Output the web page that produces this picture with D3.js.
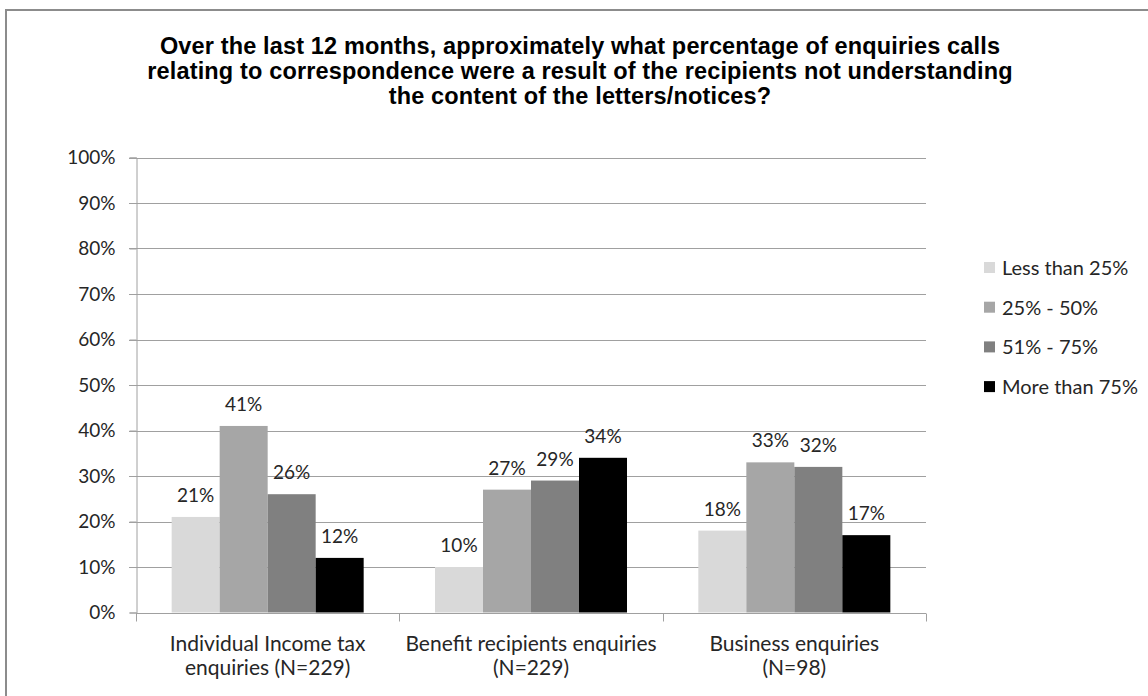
<!DOCTYPE html>
<html>
<head>
<meta charset="utf-8">
<script src="https://cdn.jsdelivr.net/npm/d3@7"></script>
<style>
  body { margin: 0; background: #fff; }
  text { fill: #262626; }
</style>
</head>
<body>
<svg id="mainsvg" width="1148" height="696"></svg>
<script>
const categories = ["Individual Income tax enquiries (N=229)", "Benefit recipients enquiries (N=229)", "Business enquiries (N=98)"];
const categoryLines = [["Individual Income tax", "enquiries (N=229)"], ["Benefit recipients enquiries", "(N=229)"], ["Business enquiries", "(N=98)"]];
const seriesNames = ["Less than 25%", "25% - 50%", "51% - 75%", "More than 75%"];
const lessThan25 = [21, 10, 18];
const from25to50 = [41, 27, 33];
const from51to75 = [26, 29, 32];
const moreThan75 = [12, 34, 17];
const yTicks = [0, 10, 20, 30, 40, 50, 60, 70, 80, 90, 100];
const titleLines = [
  "Over the last 12 months, approximately what percentage of enquiries calls",
  "relating to correspondence were a result of the recipients not understanding",
  "the content of the letters/notices?"
];
const colors = ["#d9d9d9", "#a6a6a6", "#808080", "#000000"];

const seriesValues = [lessThan25, from25to50, from51to75, moreThan75];

const svg = d3.select('#mainsvg');
const width = +svg.attr('width');
const height = +svg.attr('height');
const labelFont = "Lato, 'Open Sans', sans-serif";

// chart frame (only top and left edges visible)
svg.append('path')
  .attr('d', `M6,${height} L6,10 L${width},10`)
  .attr('fill', 'none')
  .attr('stroke', '#8c8c8c')
  .attr('stroke-width', 2);

// title
svg.append('g').selectAll('text').data(titleLines).join('text')
  .attr('x', 580)
  .attr('y', (d, i) => 54 + i * 25)
  .attr('text-anchor', 'middle')
  .attr('font-family', "'Liberation Sans', Arial, sans-serif")
  .attr('font-weight', 'bold')
  .attr('font-size', 23.5)
  .attr('letter-spacing', 0.15)
  .style('fill', '#000')
  .text(d => d);

const x0 = d3.scaleBand().domain(categories).range([136, 926]);
const x1 = d3.scaleBand().domain(seriesNames).range([0, x0.bandwidth()]).paddingOuter(0.743);
const y = d3.scaleLinear().domain([0, 100]).range([612.5, 157.5]);

// gridlines
svg.append('g').selectAll('line').data(yTicks.filter(d => d > 0)).join('line')
  .attr('x1', 129).attr('x2', 926)
  .attr('y1', d => Math.round(y(d)) + 0.5).attr('y2', d => Math.round(y(d)) + 0.5)
  .attr('stroke', '#a0a0a0');

// y axis
const yAxis = svg.append('g')
  .attr('transform', 'translate(136.5,0)')
  .call(d3.axisLeft(y).tickValues(yTicks).tickSize(7).tickPadding(14).tickFormat(d => d + '%'));
yAxis.selectAll('line, path').attr('stroke', '#a0a0a0');
yAxis.selectAll('text').attr('font-family', labelFont).attr('font-size', 19).style('fill', '#262626');

// bars
const groups = svg.append('g').selectAll('g').data(categories).join('g')
  .attr('transform', d => `translate(${x0(d)},0)`);

groups.selectAll('rect')
  .data((c, ci) => seriesNames.map((s, si) => ({ s, si, v: seriesValues[si][ci] })))
  .join('rect')
  .attr('x', d => x1(d.s))
  .attr('width', x1.bandwidth())
  .attr('y', d => y(d.v))
  .attr('height', d => y(0) - y(d.v))
  .attr('fill', d => colors[d.si]);

groups.selectAll('.datatext')
  .data((c, ci) => seriesNames.map((s, si) => ({ s, si, v: seriesValues[si][ci] })))
  .join('text')
  .attr('class', 'datatext')
  .attr('x', d => x1(d.s) + x1.bandwidth() / 2)
  .attr('y', d => y(d.v) - 15)
  .attr('text-anchor', 'middle')
  .attr('font-family', labelFont)
  .attr('font-size', 19)
  .text(d => d.v + '%');

// x axis
const xAxis = svg.append('g')
  .attr('transform', `translate(0,${Math.round(y(0)) + 0.5})`);
xAxis.append('line').attr('x1', 136).attr('x2', 926).attr('stroke', '#a0a0a0');
xAxis.selectAll('.tick').data([136, 399.3, 662.7, 926]).join('line')
  .attr('class', 'tick')
  .attr('x1', d => Math.round(d) + 0.5).attr('x2', d => Math.round(d) + 0.5)
  .attr('y1', 0).attr('y2', 8)
  .attr('stroke', '#a0a0a0');

svg.append('g').selectAll('text').data(categories).join('text')
  .attr('x', d => x0(d) + x0.bandwidth() / 2)
  .attr('text-anchor', 'middle')
  .attr('font-family', labelFont)
  .attr('font-size', 21)
  .each(function (d, i) {
    d3.select(this).selectAll('tspan').data(categoryLines[i]).join('tspan')
      .attr('x', x0(d) + x0.bandwidth() / 2)
      .attr('y', (t, j) => 651 + j * 24)
      .text(t => t);
  });

// legend
const legend = svg.append('g').selectAll('g').data(seriesNames).join('g')
  .attr('transform', (d, i) => `translate(984,${268 + i * 39.7})`);
legend.append('rect')
  .attr('x', 0).attr('y', -6).attr('width', 11).attr('height', 11)
  .attr('fill', (d, i) => colors[i]);
legend.append('text')
  .attr('x', 18).attr('y', 0).attr('dy', '0.35em')
  .attr('font-family', labelFont)
  .attr('font-size', 20)
  .text(d => d);
</script>
</body>
</html>
